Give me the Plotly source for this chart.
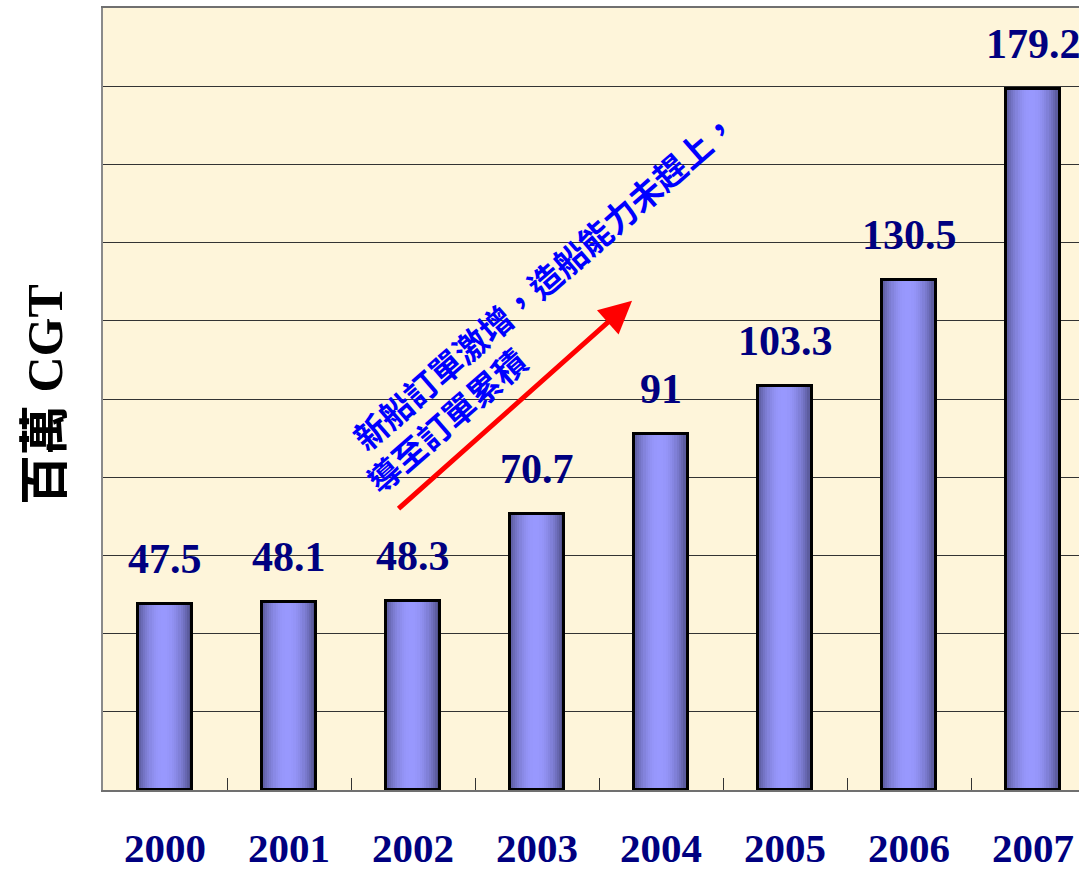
import plotly.graph_objects as go

years = ["2000", "2001", "2002", "2003", "2004", "2005", "2006", "2007"]
values = [47.5, 48.1, 48.3, 70.7, 91, 103.3, 130.5, 179.2]
labels = ["47.5", "48.1", "48.3", "70.7", "91", "103.3", "130.5", "179.2"]

BAR_W = 0.43
N = 24
edge = (0x44, 0x44, 0x78)
light = (0x99, 0x99, 0xFF)

fig = go.Figure()

# gradient bars built from vertical slices
for i in range(N):
    t = (i + 0.5) / N
    g = max(0.0, 1 - ((t - 0.47) / 0.56) ** 2)
    c = tuple(int(edge[k] + (light[k] - edge[k]) * g) for k in range(3))
    fig.add_trace(go.Bar(
        x=years, y=values,
        width=BAR_W / N * 1.15,
        offset=-BAR_W / 2 + i * BAR_W / N,
        marker=dict(color="rgb(%d,%d,%d)" % c, line=dict(width=0)),
        showlegend=False, hoverinfo="skip",
    ))

# outline
fig.add_trace(go.Bar(
    x=years, y=values, width=BAR_W, offset=-BAR_W / 2,
    marker=dict(color="rgba(0,0,0,0)", line=dict(color="black", width=3)),
    showlegend=False,
))

annotations = []
for i, (v, lab) in enumerate(zip(values, labels)):
    annotations.append(dict(
        x=i, y=v, xref="x", yref="y", text=lab, showarrow=False,
        xanchor="center", yanchor="middle", yshift=45,
        font=dict(family="Liberation Serif", size=42, color="#000080", weight="bold"),
    ))

# y title
annotations.append(dict(
    x=-0.0594, y=0.505, xref="paper", yref="paper", text="百萬 CGT",
    textangle=-90, showarrow=False, xanchor="center", yanchor="middle",
    font=dict(family="Liberation Serif, Noto Sans CJK TC", size=50, color="black", weight="bold"),
))

# arrow
annotations.append(dict(
    x=3.766, y=125.1, ax=1.871, ay=71.6, xref="x", yref="y", axref="x", ayref="y",
    text="", showarrow=True, arrowhead=2, arrowsize=1.3, arrowwidth=5,
    arrowcolor="#FF0000", standoff=0,
))

# rotated note
note_font = dict(family="Noto Sans CJK TC", size=33, color="#0000FF", weight="bold")
annotations.append(dict(
    x=3.056, y=130.5, xref="x", yref="y", text="新船訂單激增，造船能力未趕上，",
    textangle=-41, showarrow=False, xanchor="center", yanchor="middle", font=note_font,
))
annotations.append(dict(
    x=2.266, y=94.6, xref="x", yref="y", text="導至訂單累積",
    textangle=-41, showarrow=False, xanchor="center", yanchor="middle", font=note_font,
))

fig.update_layout(
    width=1079, height=875,
    margin=dict(l=103, r=0, t=8, b=85),
    paper_bgcolor="white", plot_bgcolor="#FEF5DA",
    barmode="overlay", bargap=0,
    annotations=annotations,
    showlegend=False,
)
fig.update_xaxes(
    range=[-0.5, 7.37], type="category", automargin=False,
    showline=True, linecolor="#707070", linewidth=2, mirror=True,
    ticks="inside", tickson="boundaries", ticklen=12, tickcolor="#333", tickwidth=1,
    tickfont=dict(family="Liberation Serif", size=41, color="#000080", weight="bold"),
    ticklabelstandoff=21,
    showgrid=False,
)
fig.update_yaxes(
    range=[0, 200], dtick=20, showticklabels=False, automargin=False,
    showgrid=True, gridcolor="#333333", gridwidth=1,
    showline=True, linecolor="#8a8a8a", linewidth=2, zeroline=False, ticks="",
)

fig.write_html("out.html")
